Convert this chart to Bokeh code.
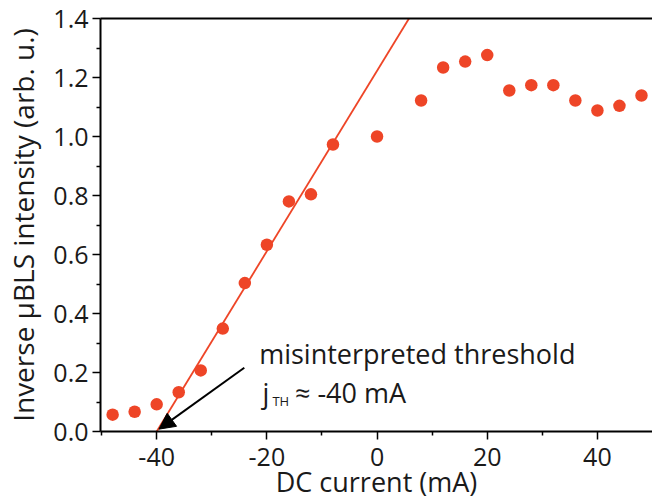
from bokeh.plotting import figure
from bokeh.models import (Range1d, FixedTicker, Arrow, NormalHead,
                          Label, LinearAxis, ColumnDataSource, NumeralTickFormatter)
from bokeh.embed import file_html
from bokeh.resources import INLINE

# ---- data ----
current = [-48, -44, -40, -36, -32, -28, -24, -20, -16, -12, -8, 0,
           8, 12, 16, 20, 24, 28, 32, 36, 40, 44, 48]
intensity = [0.057, 0.067, 0.092, 0.133, 0.207, 0.349, 0.503, 0.633, 0.780,
             0.804, 0.973, 1.000, 1.122, 1.234, 1.254, 1.276, 1.156, 1.174,
             1.174, 1.122, 1.088, 1.104, 1.139]
fit_current = [-40.0, 5.8]
fit_intensity = [0.0, 1.4]
x_major = [-40, -20, 0, 20, 40]
x_minor = [-50, -30, -10, 10, 30]
y_major = [0.0, 0.2, 0.4, 0.6, 0.8, 1.0, 1.2, 1.4]
y_minor = [0.1, 0.3, 0.5, 0.7, 0.9, 1.1, 1.3]
arrow_start = (-24.1, 0.216)
arrow_end = (-39.6, 0.008)
threshold_text = "misinterpreted threshold"
threshold_value = "≈ -40 mA"

RED = "#EE4527"
FONT = "Open Sans"
TXT = "#1a1a1a"

p = figure(width=652, height=502, output_backend="svg", toolbar_location=None,
           x_range=Range1d(-50.2, 50.0), y_range=Range1d(0, 1.4),
           min_border_left=100, min_border_right=0, min_border_top=18,
           min_border_bottom=71)

p.outline_line_color = None
p.xgrid.visible = False
p.ygrid.visible = False
p.background_fill_color = "white"
p.border_fill_color = "white"

src = ColumnDataSource(dict(x=current, y=intensity))
fit = ColumnDataSource(dict(x=fit_current, y=fit_intensity))

p.line("x", "y", source=fit, line_color=RED, line_width=1.8)
p.scatter("x", "y", source=src, size=12.5, fill_color=RED, line_color=None)

xax = p.below[0]
yax = p.left[0]

# top frame line
top = LinearAxis(ticker=FixedTicker(ticks=[], minor_ticks=[]), axis_line_width=2,
                 axis_line_color="black", major_tick_line_color=None,
                 minor_tick_line_color=None, major_label_text_font_size="0px")
p.add_layout(top, "above")

xax.ticker = FixedTicker(ticks=x_major, minor_ticks=x_minor)
yax.ticker = FixedTicker(ticks=y_major, minor_ticks=y_minor)
xax.formatter = NumeralTickFormatter(format="0")
yax.formatter = NumeralTickFormatter(format="0.0")

for ax in (xax, yax):
    ax.axis_line_width = 2
    ax.axis_line_color = "black"
    ax.major_tick_line_width = 1.5
    ax.minor_tick_line_width = 1.5
    ax.major_tick_in = 0
    ax.major_tick_out = 8
    ax.minor_tick_in = 0
    ax.minor_tick_out = 4
    ax.major_label_text_font = FONT
    ax.major_label_text_font_size = "25px"
    ax.major_label_text_color = TXT
    ax.axis_label_text_font = FONT
    ax.axis_label_text_font_style = "normal"
    ax.axis_label_text_color = TXT

xax.axis_label = "DC current (mA)"
xax.axis_label_text_font_size = "27px"
yax.axis_label = "Inverse µBLS intensity (arb. u.)"
yax.axis_label_text_font_size = "28px"
xax.major_label_standoff = 8
xax.axis_label_standoff = -6
yax.major_label_standoff = 4
yax.axis_label_standoff = 8

p.add_layout(Arrow(end=NormalHead(size=16, fill_color="black", line_color="black"),
                   x_start=arrow_start[0], y_start=arrow_start[1],
                   x_end=arrow_end[0], y_end=arrow_end[1],
                   line_color="black", line_width=2))

p.add_layout(Label(x=-21.4, y=0.263, text=threshold_text, text_font=FONT,
                   text_font_size="27px", text_color=TXT, text_baseline="alphabetic"))
p.add_layout(Label(x=-20.8, y=0.133, text="j", text_font=FONT,
                   text_font_size="27px", text_color=TXT, text_baseline="alphabetic"))
p.add_layout(Label(x=-19.0, y=0.105, text="TH", text_font=FONT,
                   text_font_size="13px", text_color=TXT, text_baseline="alphabetic"))
p.add_layout(Label(x=-14.9, y=0.133, text=threshold_value, text_font=FONT,
                   text_font_size="27px", text_color=TXT, text_baseline="alphabetic"))

open("out.html", "w").write(file_html(p, INLINE))
